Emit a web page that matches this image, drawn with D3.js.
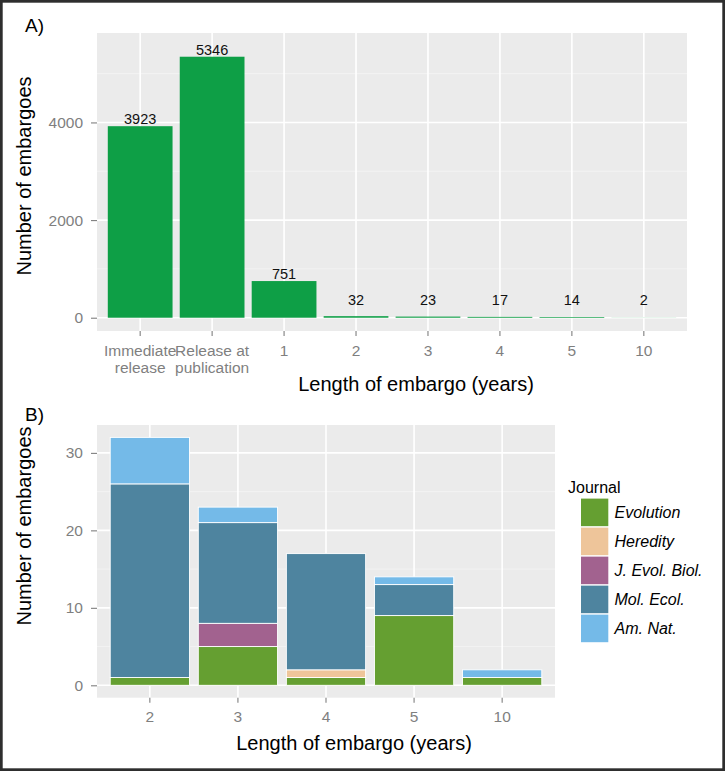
<!DOCTYPE html>
<html>
<head>
<meta charset="utf-8">
<script src="https://cdn.jsdelivr.net/npm/d3@7"></script>
<style>
  html, body { margin: 0; padding: 0; background: #fff; }
  svg { display: block; font-family: "Liberation Sans", Arial, Helvetica, sans-serif; }
</style>
</head>
<body>
<svg id="chart" width="725" height="771"></svg>
<script>
// ---------- DATA ----------
const catsA = ["Immediate release", "Release at publication", "1", "2", "3", "4", "5", "10"];
const tickLabelsA = [["Immediate", "release"], ["Release at", "publication"], ["1"], ["2"], ["3"], ["4"], ["5"], ["10"]];
const countsA = [3923, 5346, 751, 32, 23, 17, 14, 2];
const yTicksA = [0, 2000, 4000];
const yMinorA = [1000, 3000, 5000];

const catsB = ["2", "3", "4", "5", "10"];
const journals = ["Evolution", "Heredity", "J. Evol. Biol.", "Mol. Ecol.", "Am. Nat."];
const evolution = [1, 5, 1, 9, 1];
const heredity = [0, 0, 1, 0, 0];
const jEvolBiol = [0, 3, 0, 0, 0];
const molEcol = [25, 13, 15, 4, 0];
const amNat = [6, 2, 0, 1, 1];
const yTicksB = [0, 10, 20, 30];
const yMinorB = [5, 15, 25];
const journalColors = ["#659f31", "#eec59a", "#a2628f", "#4e849f", "#74bae8"];

// ---------- SETUP ----------
const svg = d3.select("#chart");
const BG = "#ebebeb", TICK = "#7f7f7f", BAR_A = "#0e9f46";
const tickFont = 15.5, titleFont = 20;

svg.append("rect").attr("x", 0).attr("y", 0).attr("width", 725).attr("height", 771).attr("fill", "#fff");

function styleAxis(g) {
  g.attr("font-size", null).attr("font-family", null);
  g.select(".domain").remove();
  g.selectAll(".tick line").attr("stroke", TICK).attr("stroke-width", 1.1);
  g.selectAll(".tick text").attr("fill", TICK).attr("font-size", tickFont);
}

// ---------- PANEL A ----------
const A = { left: 97, right: 687, top: 33, bottom: 331 };
const xA = d3.scaleBand().domain(catsA).range([A.left, A.right]).paddingInner(0.1).paddingOuter(0.15);
const yA = d3.scaleLinear().domain([-272, 5832]).range([A.bottom, A.top]);

svg.append("rect").attr("x", A.left).attr("y", A.top).attr("width", A.right - A.left).attr("height", A.bottom - A.top).attr("fill", BG);
svg.append("g").selectAll("line").data(yMinorA).join("line")
  .attr("x1", A.left).attr("x2", A.right).attr("y1", d => yA(d)).attr("y2", d => yA(d))
  .attr("stroke", "#f5f5f5").attr("stroke-width", 0.8);
svg.append("g").selectAll("line").data(yTicksA).join("line")
  .attr("x1", A.left).attr("x2", A.right).attr("y1", d => yA(d)).attr("y2", d => yA(d))
  .attr("stroke", "#fff").attr("stroke-width", 1.6);
svg.append("g").selectAll("line").data(catsA).join("line")
  .attr("x1", d => xA(d) + xA.bandwidth() / 2).attr("x2", d => xA(d) + xA.bandwidth() / 2)
  .attr("y1", A.top).attr("y2", A.bottom)
  .attr("stroke", "#fff").attr("stroke-width", 1.6);

svg.append("g").selectAll("rect").data(catsA).join("rect")
  .attr("x", d => xA(d)).attr("width", xA.bandwidth())
  .attr("y", (d, i) => yA(countsA[i])).attr("height", (d, i) => yA(0) - yA(countsA[i]))
  .attr("fill", BAR_A);

svg.append("g").selectAll("text").data(catsA).join("text")
  .attr("x", d => xA(d) + xA.bandwidth() / 2)
  .attr("y", (d, i) => yA(Math.max(countsA[i], 225)) - 2)
  .attr("text-anchor", "middle").attr("font-size", 14.5).attr("fill", "#111")
  .text((d, i) => countsA[i]);

svg.append("g").attr("transform", `translate(0,${A.bottom})`)
  .call(d3.axisBottom(xA).tickSize(5).tickPadding(9))
  .call(styleAxis)
  .call(g => g.selectAll(".tick text").each(function (d, i) {
    const t = d3.select(this);
    t.text(null);
    tickLabelsA[i].forEach((line, j) => {
      t.append("tspan").attr("x", 0).attr("dy", j === 0 ? "0.71em" : "1.1em").text(line);
    });
  }));

svg.append("g").attr("transform", `translate(${A.left},0)`)
  .call(d3.axisLeft(yA).tickValues(yTicksA).tickFormat(d3.format("d")).tickSize(6).tickPadding(8))
  .call(styleAxis);

svg.append("text").attr("x", 416).attr("y", 391).attr("text-anchor", "middle")
  .attr("font-size", titleFont).attr("fill", "#000").text("Length of embargo (years)");
svg.append("text").attr("transform", "translate(31,176) rotate(-90)").attr("text-anchor", "middle")
  .attr("font-size", titleFont).attr("fill", "#000").text("Number of embargoes");
svg.append("text").attr("x", 25).attr("y", 32).attr("font-size", 19).attr("fill", "#000").text("A)");

// ---------- PANEL B ----------
const B = { left: 97, right: 555, top: 425, bottom: 697.7 };
const xB = d3.scaleBand().domain(catsB).range([B.left, B.right]).paddingInner(0.1).paddingOuter(0.15);
const yB = d3.scaleLinear().domain([-1.6, 33.6]).range([B.bottom, B.top]);

svg.append("rect").attr("x", B.left).attr("y", B.top).attr("width", B.right - B.left).attr("height", B.bottom - B.top).attr("fill", BG);
svg.append("g").selectAll("line").data(yMinorB).join("line")
  .attr("x1", B.left).attr("x2", B.right).attr("y1", d => yB(d)).attr("y2", d => yB(d))
  .attr("stroke", "#f5f5f5").attr("stroke-width", 0.8);
svg.append("g").selectAll("line").data(yTicksB).join("line")
  .attr("x1", B.left).attr("x2", B.right).attr("y1", d => yB(d)).attr("y2", d => yB(d))
  .attr("stroke", "#fff").attr("stroke-width", 1.6);
svg.append("g").selectAll("line").data(catsB).join("line")
  .attr("x1", d => xB(d) + xB.bandwidth() / 2).attr("x2", d => xB(d) + xB.bandwidth() / 2)
  .attr("y1", B.top).attr("y2", B.bottom)
  .attr("stroke", "#fff").attr("stroke-width", 1.6);

const seriesVals = [evolution, heredity, jEvolBiol, molEcol, amNat];
const tableB = catsB.map((c, i) => {
  const row = { cat: c };
  journals.forEach((j, k) => { row[j] = seriesVals[k][i]; });
  return row;
});
const stackB = d3.stack().keys(journals)(tableB);

svg.append("g").selectAll("g").data(stackB).join("g")
  .attr("fill", (d, k) => journalColors[k])
  .selectAll("rect").data(d => d.filter(s => s[1] - s[0] > 0)).join("rect")
  .attr("x", s => xB(s.data.cat)).attr("width", xB.bandwidth())
  .attr("y", s => yB(s[1])).attr("height", s => yB(s[0]) - yB(s[1]))
  .attr("stroke", "#fff").attr("stroke-width", 0.9);

svg.append("g").attr("transform", `translate(0,${B.bottom})`)
  .call(d3.axisBottom(xB).tickSize(5).tickPadding(8.3))
  .call(styleAxis);
svg.append("g").attr("transform", `translate(${B.left},0)`)
  .call(d3.axisLeft(yB).tickValues(yTicksB).tickFormat(d3.format("d")).tickSize(6).tickPadding(8))
  .call(styleAxis);

svg.append("text").attr("x", 354).attr("y", 750).attr("text-anchor", "middle")
  .attr("font-size", titleFont).attr("fill", "#000").text("Length of embargo (years)");
svg.append("text").attr("transform", "translate(31,526) rotate(-90)").attr("text-anchor", "middle")
  .attr("font-size", titleFont).attr("fill", "#000").text("Number of embargoes");
svg.append("text").attr("x", 25).attr("y", 421).attr("font-size", 19).attr("fill", "#000").text("B)");

// ---------- LEGEND ----------
const legend = svg.append("g");
legend.append("text").attr("x", 568).attr("y", 492.5).attr("font-size", 16).attr("fill", "#000").text("Journal");
const keyY = d3.scaleBand().domain(journals).range([498.6, 642.2]).paddingInner(0.05).paddingOuter(0);
legend.selectAll("rect").data(journals).join("rect")
  .attr("x", 581).attr("width", 27.3)
  .attr("y", d => keyY(d)).attr("height", keyY.bandwidth())
  .attr("fill", (d, k) => journalColors[k]);
legend.selectAll("text.lab").data(journals).join("text").attr("class", "lab")
  .attr("x", 614.5).attr("y", d => keyY(d) + keyY.bandwidth() / 2 + 6)
  .attr("font-size", 16).attr("font-style", "italic").attr("fill", "#000")
  .text(d => d);

// ---------- FRAME ----------
svg.append("rect").attr("x", 1.35).attr("y", 1.35).attr("width", 725 - 2.7).attr("height", 771 - 2.7)
  .attr("fill", "none").attr("stroke", "#2e2e2e").attr("stroke-width", 2.7);
</script>
</body>
</html>
